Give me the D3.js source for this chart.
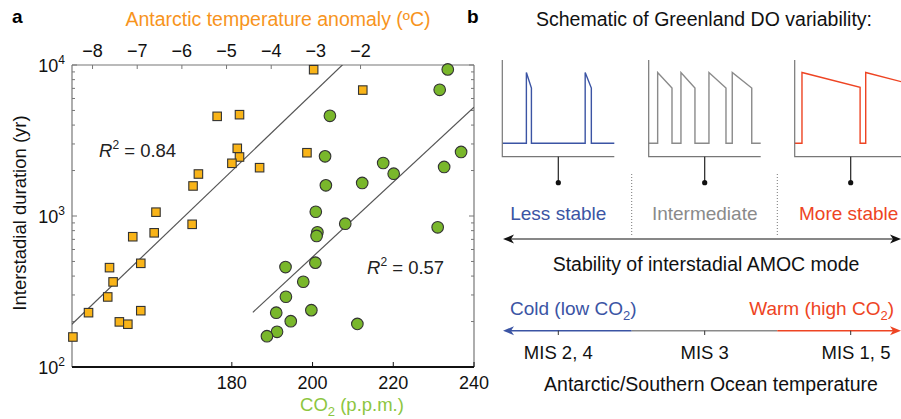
<!DOCTYPE html>
<html>
<head>
<meta charset="utf-8">
<script src="https://cdn.jsdelivr.net/npm/d3@7"></script>
<style>
  body { margin: 0; background: #fff; }
  svg { display: block; font-family: "Liberation Sans", Arial, Helvetica, sans-serif; }
</style>
</head>
<body>
<div id="chart"></div>
<script>
// Panel a data: Antarctic temperature anomaly (ºC) vs interstadial duration (yr)
const tempAnomaly = [-8.44, -8.09, -7.62, -7.54, -7.66, -7.40, -7.21, -6.92, -6.92, -7.10, -6.62, -6.58,
                     -5.77, -5.75, -5.63, -5.21, -4.71, -4.76, -4.71, -4.88, -4.26, -3.05, -1.95, -3.20];
const tempDuration = [158, 229, 455, 366, 291, 199, 192, 236, 486, 729, 774, 1060,
                      881, 1581, 1897, 4571, 4688, 2806, 2459, 2234, 2089, 9311, 6823, 2624];

// CO2 (p.p.m.) vs interstadial duration (yr)
const co2 = [233.5, 231.5, 204.3, 203.1, 203.3, 217.5, 220.1, 212.3, 236.8, 232.6, 200.8, 208.1, 201.2,
             201.0, 231.0, 193.3, 200.7, 197.7, 193.4, 191.0, 199.7, 194.6, 211.1, 191.2, 188.7];
const co2Duration = [9350, 6850, 4610, 2483, 1596, 2244, 1906, 1656, 2655, 2113, 1067, 889, 780,
                     738, 842, 459, 491, 367, 292, 229, 238, 201, 193, 171, 160];

// regression lines (end points)
const tempFit = [[-8.48, 190], [-2.29, 10800]];
const co2Fit = [[185.2, 230], [240, 5250]];

const co2Ticks = [180, 200, 220, 240];
const tempTicks = [-8, -7, -6, -5, -4, -3, -2];
const durationTicks = [100, 1000, 10000];

// Panel b schematics: time (0-10) vs level (0 stadial, 1 interstadial peak)
const lessStable = [[0, 0], [2.15, 0], [2.15, 1], [2.6, 0.78], [2.6, 0], [7.4, 0], [7.4, 1], [7.95, 0.78], [7.95, 0], [10, 0]];
const intermediate = [[0, 0], [0.8, 0], [0.8, 1], [2.08, 0.78], [2.08, 0], [2.88, 0], [2.88, 1], [4.13, 0.78], [4.13, 0],
                      [5.38, 0], [5.38, 1], [6.9, 0.78], [6.9, 0], [7.46, 0], [7.46, 1], [9.2, 0.78], [9.2, 0], [10, 0]];
const moreStable = [[0, 0], [0.65, 0], [0.65, 1], [5.84, 0.79], [5.84, 0], [6.34, 0], [6.34, 1], [10, 0.85]];

const stabilityLabels = ["Less stable", "Intermediate", "More stable"];
const misLabels = ["MIS 2, 4", "MIS 3", "MIS 1, 5"];

const orange = "#f7941d", gold = "#f9b418", green = "#8dc63f", greenFill = "#79b72b";
const blue = "#3b54a4", red = "#ee4423", grey = "#8a8a8a", axisGrey = "#777";

const svg = d3.select("#chart").append("svg")
    .attr("width", 901)
    .attr("height", 419);

// ---------- panel a ----------
const x = d3.scaleLinear().domain([140.4, 240]).range([72, 474]);
const xT = d3.scaleLinear().domain([-8.46, 0.54]).range([72, 474]);
const y = d3.scaleLog().domain([100, 10000]).range([367, 65]);

svg.append("clipPath").attr("id", "plotclip")
  .append("rect").attr("x", 72).attr("y", 65).attr("width", 402).attr("height", 302);

// minor ticks (log)
const minor = [];
[100, 1000].forEach(d => { for (let k = 2; k <= 9; k++) minor.push(d * k); });

const frame = svg.append("g");
// left and right axes
[72, 474].forEach((xx, i) => {
    const dir = i === 0 ? 1 : -1;
    frame.append("line").attr("x1", xx).attr("x2", xx).attr("y1", 65).attr("y2", 367)
        .attr("stroke", axisGrey).attr("stroke-width", 1.2);
    frame.selectAll(null).data(minor).enter().append("line")
        .attr("x1", xx).attr("x2", xx + dir * 3)
        .attr("y1", d => y(d)).attr("y2", d => y(d))
        .attr("stroke", axisGrey);
    frame.selectAll(null).data(durationTicks).enter().append("line")
        .attr("x1", xx).attr("x2", xx + dir * 5)
        .attr("y1", d => y(d)).attr("y2", d => y(d))
        .attr("stroke", axisGrey);
});
// top axis
frame.append("line").attr("x1", 72).attr("x2", 474).attr("y1", 65).attr("y2", 65)
    .attr("stroke", axisGrey).attr("stroke-width", 1.2);
frame.selectAll(null).data(tempTicks).enter().append("line")
    .attr("x1", d => xT(d)).attr("x2", d => xT(d)).attr("y1", 65).attr("y2", 69)
    .attr("stroke", axisGrey);
frame.selectAll(null).data(tempTicks).enter().append("text")
    .attr("x", d => xT(d)).attr("y", 57)
    .attr("text-anchor", "middle").attr("font-size", 18).attr("fill", "#111")
    .text(d => "\u2212" + Math.abs(d));
// bottom axis
frame.append("line").attr("x1", 72).attr("x2", 474).attr("y1", 367).attr("y2", 367)
    .attr("stroke", "#111").attr("stroke-width", 2);
frame.selectAll(null).data(co2Ticks).enter().append("line")
    .attr("x1", d => x(d)).attr("x2", d => x(d)).attr("y1", 367).attr("y2", 362)
    .attr("stroke", "#111");
frame.selectAll(null).data(co2Ticks).enter().append("text")
    .attr("x", d => x(d)).attr("y", 389)
    .attr("text-anchor", "middle").attr("font-size", 18).attr("fill", "#111")
    .text(d => d);
// left tick labels 10^n
const yl = frame.selectAll(null).data(durationTicks).enter().append("text")
    .attr("x", 65).attr("y", d => y(d) + 7)
    .attr("text-anchor", "end").attr("font-size", 18).attr("fill", "#111");
yl.append("tspan").text("10");
yl.append("tspan").attr("dy", -8).attr("font-size", 12).text(d => Math.round(Math.log10(d)));

// titles
svg.append("text").attr("x", 12).attr("y", 23).attr("font-size", 19).attr("font-weight", "bold").text("a");
svg.append("text").attr("x", 278).attr("y", 26).attr("text-anchor", "middle")
    .attr("font-size", 19.5).attr("fill", orange).text("Antarctic temperature anomaly (ºC)");
svg.append("text").attr("transform", "translate(26,213) rotate(-90)")
    .attr("text-anchor", "middle").attr("font-size", 18.5).attr("fill", "#111")
    .text("Interstadial duration (yr)");
const co2Title = svg.append("text").attr("x", 352).attr("y", 411).attr("text-anchor", "middle")
    .attr("font-size", 18.5).attr("fill", green);
co2Title.append("tspan").text("CO");
co2Title.append("tspan").attr("dy", 5).attr("font-size", 13).text("2");
co2Title.append("tspan").attr("dy", -5).text(" (p.p.m.)");

// R² labels
function r2(xx, yy, val) {
    const t = svg.append("text").attr("x", xx).attr("y", yy).attr("font-size", 18.5).attr("fill", "#222");
    t.append("tspan").attr("font-style", "italic").text("R");
    t.append("tspan").attr("dy", -8).attr("font-size", 12).text("2");
    t.append("tspan").attr("dy", 8).text(" = " + val);
}
r2(99, 157, "0.84");
r2(367, 274, "0.57");

// regression lines
const plot = svg.append("g").attr("clip-path", "url(#plotclip)");
plot.append("path").datum(tempFit)
    .attr("d", d3.line().x(d => xT(d[0])).y(d => y(d[1])))
    .attr("stroke", "#555").attr("stroke-width", 1.2).attr("fill", "none");
plot.append("path").datum(co2Fit)
    .attr("d", d3.line().x(d => x(d[0])).y(d => y(d[1])))
    .attr("stroke", "#555").attr("stroke-width", 1.2).attr("fill", "none");

// points
const sq = 8.5;
svg.append("g").selectAll("rect").data(tempAnomaly).enter().append("rect")
    .attr("x", d => xT(d) - sq / 2)
    .attr("y", (d, i) => y(tempDuration[i]) - sq / 2)
    .attr("width", sq).attr("height", sq)
    .attr("fill", gold).attr("stroke", "#333").attr("stroke-width", 1.1);
svg.append("g").selectAll("circle").data(co2).enter().append("circle")
    .attr("cx", d => x(d))
    .attr("cy", (d, i) => y(co2Duration[i]))
    .attr("r", 5.8)
    .attr("fill", greenFill).attr("stroke", "#333").attr("stroke-width", 1.1);

// ---------- panel b ----------
svg.append("text").attr("x", 467).attr("y", 23).attr("font-size", 19).attr("font-weight", "bold").text("b");
svg.append("text").attr("x", 704).attr("y", 26).attr("text-anchor", "middle")
    .attr("font-size", 19.5).attr("fill", "#111").text("Schematic of Greenland DO variability:");

const schematics = [
    {series: lessStable, left: 502.3, color: blue},
    {series: intermediate, left: 648.7, color: grey},
    {series: moreStable, left: 794.7, color: red}
];
const ly = d3.scaleLinear().domain([0, 1]).range([143.3, 72.5]);
const centers = [];
schematics.forEach(s => {
    const lx = d3.scaleLinear().domain([0, 10]).range([s.left, s.left + 112]);
    const g = svg.append("g");
    g.append("path").datum(s.series)
        .attr("d", d3.line().x(d => lx(d[0])).y(d => ly(d[1])))
        .attr("fill", "none").attr("stroke", s.color).attr("stroke-width", 1.4);
    g.append("path")
        .attr("d", `M${lx(0)},60V156.7H${lx(10)}`)
        .attr("fill", "none").attr("stroke", axisGrey).attr("stroke-width", 1.2);
    const cx = lx(5);
    centers.push(cx);
    g.append("line").attr("x1", cx).attr("x2", cx).attr("y1", 156.7).attr("y2", 182.7)
        .attr("stroke", "#222").attr("stroke-width", 1.2);
    g.append("circle").attr("cx", cx).attr("cy", 182.7).attr("r", 2.6).attr("fill", "#111");
});

// dotted separators
[631.7, 777.3].forEach(xx => {
    svg.append("line").attr("x1", xx).attr("x2", xx).attr("y1", 174).attr("y2", 235)
        .attr("stroke", "#777").attr("stroke-dasharray", "1,2");
});

const labelColors = [blue, grey, red];
svg.selectAll(null).data(stabilityLabels).enter().append("text")
    .attr("x", (d, i) => centers[i] + (i === 2 ? -2 : 0)).attr("y", 220)
    .attr("text-anchor", "middle").attr("font-size", 19)
    .attr("fill", (d, i) => labelColors[i]).text(d => d);

function head(xx, yy, dir, color) {
    svg.append("path")
        .attr("d", `M${xx},${yy}L${xx + dir * 11},${yy - 4.5}L${xx + dir * 8},${yy}L${xx + dir * 11},${yy + 4.5}Z`)
        .attr("fill", color);
}
// stability arrow
svg.append("line").attr("x1", 506).attr("x2", 898).attr("y1", 239).attr("y2", 239)
    .attr("stroke", "#111").attr("stroke-width", 1.2);
head(503, 239, 1, "#111");
head(901, 239, -1, "#111");
svg.append("text").attr("x", 706).attr("y", 271).attr("text-anchor", "middle")
    .attr("font-size", 19.5).attr("fill", "#111").text("Stability of interstadial AMOC mode");

// temperature arrow
const cold = svg.append("text").attr("x", 510).attr("y", 315).attr("font-size", 19).attr("fill", blue);
cold.append("tspan").text("Cold (low CO");
cold.append("tspan").attr("dy", 5).attr("font-size", 13).text("2");
cold.append("tspan").attr("dy", -5).text(")");
const warm = svg.append("text").attr("x", 894).attr("y", 315).attr("text-anchor", "end").attr("font-size", 19).attr("fill", red);
warm.append("tspan").text("Warm (high CO");
warm.append("tspan").attr("dy", 5).attr("font-size", 13).text("2");
warm.append("tspan").attr("dy", -5).text(")");

[[506, 631.7, blue], [631.7, 777.3, grey], [777.3, 898, red]].forEach(s => {
    svg.append("line").attr("x1", s[0]).attr("x2", s[1]).attr("y1", 330.7).attr("y2", 330.7)
        .attr("stroke", s[2]).attr("stroke-width", 1.4);
});
head(503, 330.7, 1, blue);
head(901, 330.7, -1, red);
centers.forEach(cx => {
    svg.append("line").attr("x1", cx).attr("x2", cx).attr("y1", 330.7).attr("y2", 335)
        .attr("stroke", "#333");
});
svg.selectAll(null).data(misLabels).enter().append("text")
    .attr("x", (d, i) => i === 2 ? 856 : centers[i]).attr("y", 359)
    .attr("text-anchor", "middle").attr("font-size", 18.5).attr("fill", "#111").text(d => d);
svg.append("text").attr("x", 711).attr("y", 391).attr("text-anchor", "middle")
    .attr("font-size", 19.5).attr("fill", "#111").text("Antarctic/Southern Ocean temperature");
</script>
</body>
</html>
